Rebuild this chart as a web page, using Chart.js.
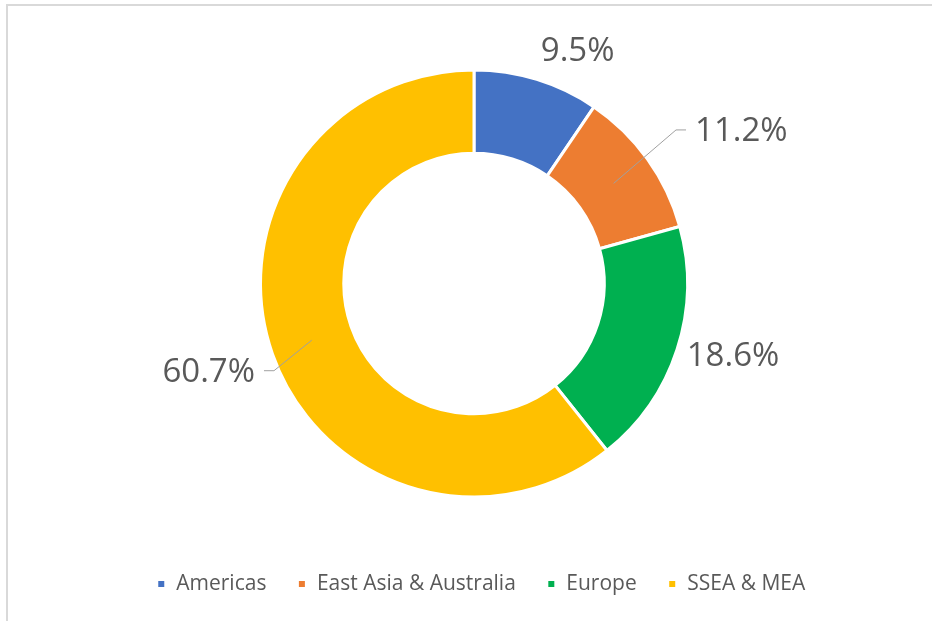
<!DOCTYPE html>
<html>
<head>
<meta charset="utf-8">
<script src="https://cdn.jsdelivr.net/npm/chart.js@4/dist/chart.umd.min.js"></script>
<style>
    html, body { margin: 0; padding: 0; background: #fff; }
    #wrap { position: relative; width: 932px; height: 621px; }
    #frame {
        position: absolute; left: 6px; top: 4px; right: 0; bottom: 0;
        border-top: 2px solid #d9d9d9; border-left: 2px solid #d9d9d9;
        pointer-events: none;
    }
</style>
</head>
<body>
<div id="wrap">
    <canvas id="regionShare"></canvas>
    <div id="frame"></div>
</div>
<script>
const regions = ["Americas", "East Asia & Australia", "Europe", "SSEA & MEA"];
const shares = [9.5, 11.2, 18.6, 60.7];
const colors = ["#4472C4", "#ED7D31", "#00B050", "#FFC000"];

// label placement tweaks (angle shift in degrees, distance past the outer edge)
const labelTweaks = [
    { da: -1, dr: 27.5, align: "left", leader: false },
    { da: 1.2, dr: 54.5, align: "left", leader: true },
    { da: 1, dr: 11.5, align: "left", leader: false },
    { da: -2.9, dr: 23, align: "right", leader: true }
];

const valueLabels = {
    id: "valueLabels",
    afterDatasetsDraw(chart) {
        const ctx = chart.ctx;
        const meta = chart.getDatasetMeta(0);
        ctx.save();
        ctx.font = "33px 'Open Sans'";
        ctx.fillStyle = "#595959";
        ctx.textBaseline = "middle";
        meta.data.forEach((arc, i) => {
            const p = arc.getProps(["x", "y", "startAngle", "endAngle", "outerRadius", "innerRadius"], true);
            const mid = (p.startAngle + p.endAngle) / 2;
            const t = labelTweaks[i];
            const ang = mid + t.da * Math.PI / 180;
            const r = p.outerRadius + t.dr;
            const tx = p.x + Math.cos(ang) * r;
            const ty = p.y + Math.sin(ang) * r;
            if (t.leader) {
                const rm = (p.outerRadius + p.innerRadius) / 2;
                const sx = p.x + Math.cos(mid) * rm;
                const sy = p.y + Math.sin(mid) * rm;
                const dir = t.align === "left" ? -1 : 1;
                const ex = tx + dir * 19;
                const ey = ty - 2;
                ctx.beginPath();
                ctx.strokeStyle = "#a0a0a0";
                ctx.lineWidth = 1;
                ctx.moveTo(sx, sy);
                ctx.lineTo(ex, ey);
                ctx.lineTo(tx + dir * 9, ey);
                ctx.stroke();
            }
            ctx.textAlign = t.align;
            ctx.fillText(shares[i].toFixed(1) + "%", tx, ty);
        });
        ctx.restore();
    }
};

// legend sits a little right of the ring centre in the original
const legendShift = {
    id: "legendShift",
    afterLayout(chart) {
        chart.legend.left += 7;
        chart.legend.right += 7;
    }
};

const canvas = document.getElementById("regionShare");
const chart = new Chart(canvas, {
    type: "doughnut",
    data: {
        labels: regions,
        datasets: [{
            data: shares,
            backgroundColor: colors,
            borderColor: "#ffffff",
            borderWidth: 3
        }]
    },
    options: {
        responsive: true,
        maintainAspectRatio: false,
        animation: false,
        radius: 213.5,
        cutout: "61%",
        layout: {
            padding: { left: 16, top: 24.5, bottom: 16.5 }
        },
        plugins: {
            tooltip: { enabled: false },
            legend: {
                position: "bottom",
                labels: {
                    boxWidth: 9,
                    boxHeight: 9,
                    padding: 31,
                    color: "#595959",
                    font: { family: "'Open Sans'", size: 21 }
                }
            }
        }
    },
    plugins: [valueLabels, legendShift]
});
</script>
</body>
</html>
